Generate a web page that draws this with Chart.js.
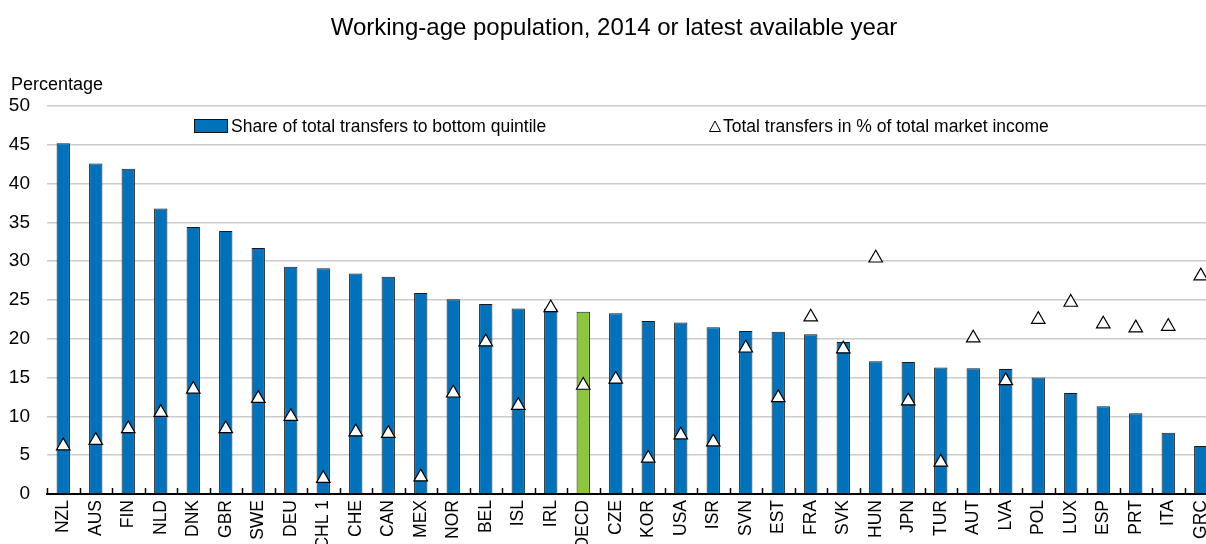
<!DOCTYPE html>
<html>
<head>
<meta charset="utf-8">
<script src="https://cdn.jsdelivr.net/npm/chart.js@4/dist/chart.umd.min.js"></script>
<style>
  body { margin: 0; background: #fff; overflow: hidden; font-family: "Liberation Sans", Arial, sans-serif; }
  #wrap { position: relative; width: 1206px; height: 544px; overflow: hidden; }
  #grafico { position: absolute; left: 0; top: 0; }
  .titulo { position: absolute; left: 0; width: 1228px; top: 15px; line-height: 24px; text-align: center; font-size: 24px; color: #000; }
  .unidade { position: absolute; left: 11px; top: 75px; line-height: 18px; font-size: 18px; color: #000; }
  .leg { position: absolute; font-size: 17.5px; line-height: 18px; color: #000; white-space: nowrap; }
  .caixa { position: absolute; width: 32px; height: 12px; background: #0072BB; border: 1px solid #111; }
</style>
</head>
<body>
<div id="wrap">
  <canvas id="grafico" width="1226" height="544" style="width:1226px;height:544px"></canvas>
  <div class="titulo">Working-age population, 2014 or latest available year</div>
  <div class="unidade">Percentage</div>
  <div class="leg" style="left:194px; top:117px;">
    <span class="caixa" style="left:0; top:2px;"></span>
    <span style="margin-left:37px;">Share of total transfers to bottom quintile</span>
  </div>
  <div class="leg" style="left:707px; top:117px;">
    <svg width="14" height="14" style="position:absolute; left:2px; top:3px;">
      <polygon points="6,1 11.5,11.5 0.5,11.5" fill="#fff" stroke="#000" stroke-width="1"></polygon>
    </svg>
    <span style="margin-left:16px;">Total transfers in % of total market income</span>
  </div>
</div>
<script>
// Dados
const paises = ['NZL','AUS','FIN','NLD','DNK','GBR','SWE','DEU','CHL 1','CHE','CAN','MEX','NOR','BEL','ISL','IRL','OECD','CZE',
  'KOR','USA','ISR','SVN','EST','FRA','SVK','HUN','JPN','TUR','AUT','LVA','POL','LUX','ESP','PRT','ITA','GRC'];

const parteQuintil = [45.2, 42.6, 41.9, 36.8, 34.4, 33.9, 31.7, 29.3, 29.1, 28.4, 28.0, 25.9, 25.1, 24.5, 23.9, 23.9, 23.5, 23.3,
  22.3, 22.1, 21.5, 21.0, 20.9, 20.6, 19.6, 17.1, 17.0, 16.3, 16.2, 16.1, 15.0, 13.0, 11.3, 10.4, 7.9, 6.2];

const transferenciasTotais = [6.2, 6.9, 8.4, 10.5, 13.5, 8.4, 12.3, 10.0, 2.0, 8.0, 7.8, 2.2, 13.0, 19.6, 11.4, 24.0, 14.0, 14.8,
  4.6, 7.6, 6.7, 18.8, 12.4, 22.8, 18.7, 30.4, 12.0, 4.1, 20.1, 14.6, 22.5, 24.7, 21.9, 21.4, 21.6, 28.1];

const ticksY = [0, 5, 10, 15, 20, 25, 30, 35, 40, 45, 50];

// Cores: OECD em verde
const coresBarras = paises.map(p => p === 'OECD' ? '#8CC63F' : '#0072BB');

// Pequenos traços entre categorias, para cima a partir do eixo
const tracosEixo = {
  id: 'tracosEixo',
  afterDatasetsDraw(chart) {
    const x = chart.scales.x;
    const ctx = chart.ctx;
    const passo = (x.right - x.left) / paises.length;
    ctx.save();
    ctx.strokeStyle = '#000';
    ctx.lineWidth = 1.5;
    for (let i = 0; i <= paises.length; i++) {
      const px = Math.round(x.left + i * passo) + 0.5;
      ctx.beginPath();
      ctx.moveTo(px, x.top);
      ctx.lineTo(px, x.top - 6);
      ctx.stroke();
    }
    ctx.restore();
  }
};

const familia = '"Liberation Sans", Arial, sans-serif';

new Chart(document.getElementById('grafico').getContext('2d'), {
  type: 'bar',
  data: {
    labels: paises,
    datasets: [
      {
        type: 'line',
        label: 'Total transfers in % of total market income',
        data: transferenciasTotais,
        showLine: false,
        pointStyle: 'triangle',
        pointRadius: 7.8,
        pointBackgroundColor: '#fff',
        pointBorderColor: '#000',
        pointBorderWidth: 1.2,
        order: 0
      },
      {
        label: 'Share of total transfers to bottom quintile',
        data: parteQuintil,
        backgroundColor: coresBarras,
        borderColor: '#1a1a1a',
        borderWidth: 1,
        barPercentage: 0.41,
        categoryPercentage: 1,
        order: 1
      }
    ]
  },
  options: {
    responsive: false,
    animation: false,
    layout: { padding: { top: 106, right: 1, left: 0, bottom: 0 } },
    plugins: {
      legend: { display: false },
      title: { display: false },
      tooltip: { enabled: false }
    },
    scales: {
      x: {
        offset: true,
        grid: { display: false, drawTicks: false },
        border: { color: '#000', width: 2 },
        ticks: {
          color: '#000',
          font: { family: familia, size: 17.5 },
          minRotation: 90,
          maxRotation: 90,
          autoSkip: false,
          padding: 6
        },
        afterFit(scale) {
          scale.height = 50;
          scale.paddingLeft = 0;
          scale.paddingRight = 0;
        }
      },
      y: {
        min: 0,
        max: 50,
        afterBuildTicks(scale) { scale.ticks = ticksY.map(v => ({ value: v })); },
        grid: { color: '#cccccc', lineWidth: 1.5, drawTicks: false },
        border: { display: false },
        ticks: { color: '#000', font: { family: familia, size: 19 }, padding: 17 },
        afterFit(scale) { scale.width = 47; }
      }
    }
  },
  plugins: [tracosEixo]
});
</script>
</body>
</html>
